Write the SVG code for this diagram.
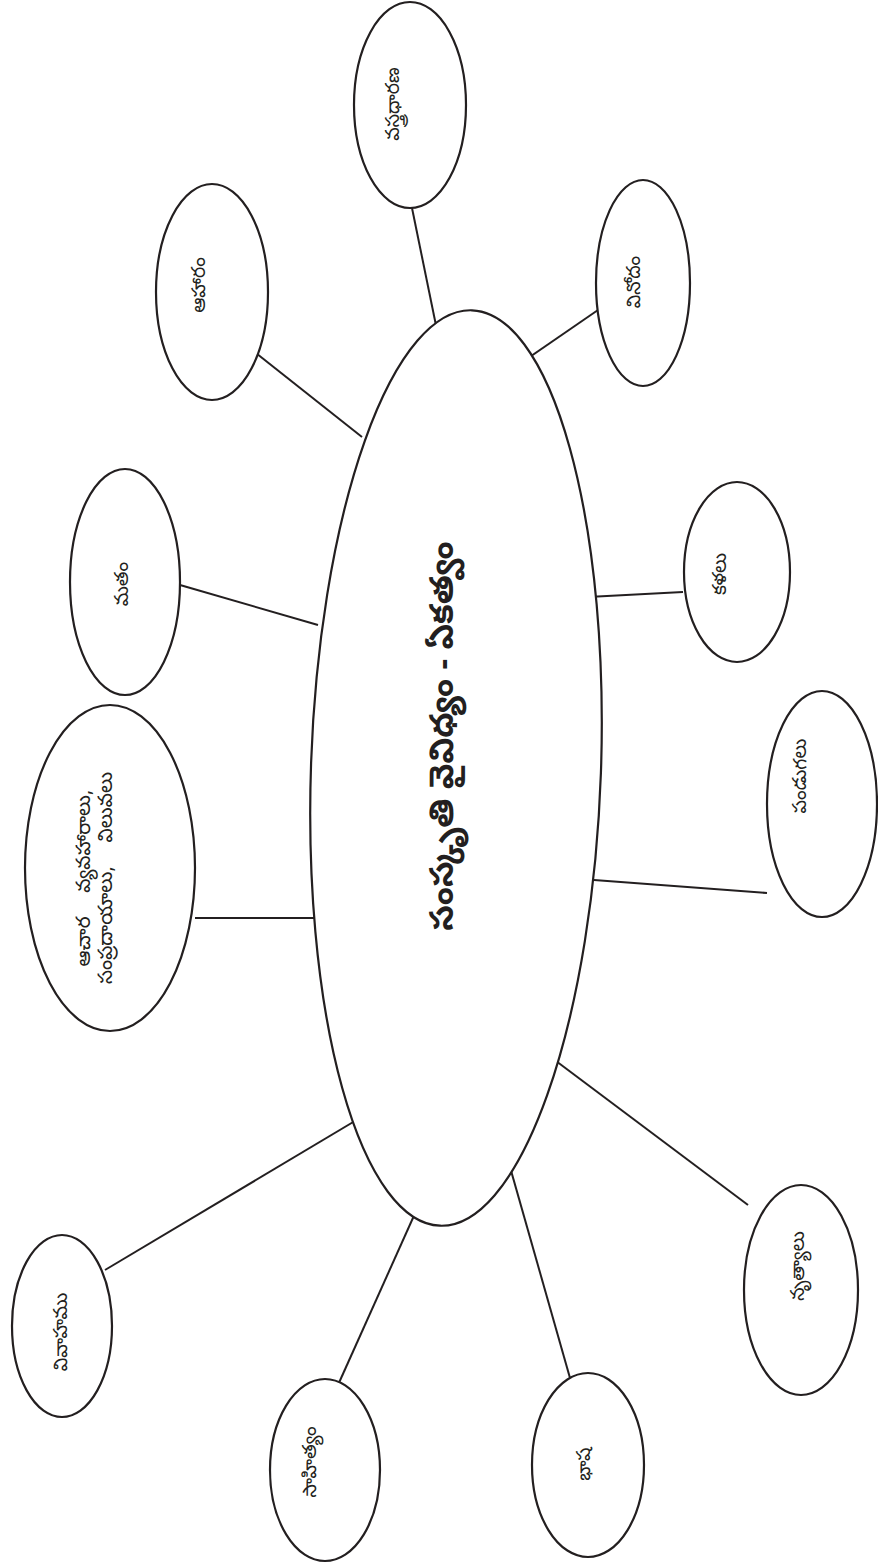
<svg xmlns="http://www.w3.org/2000/svg" width="878" height="1565" viewBox="0 0 878 1565">
<style>
.e{fill:#fff;stroke:#231f20;stroke-width:2.2}
.c line{stroke:#231f20;stroke-width:2}
.t{font-family:"Noto Sans Telugu","Noto Sans","DejaVu Sans",sans-serif;font-size:19px;fill:#231f20;text-anchor:middle;dominant-baseline:central}
.big{font-size:33px;font-weight:bold}
.wide{font-size:20px;word-spacing:18px}
</style>
<rect width="878" height="1565" fill="#fff"/>
<g class="c" id="connectors">
<line x1="412" y1="208" x2="440" y2="345"/>
<line x1="252" y1="350" x2="362" y2="437"/>
<line x1="180" y1="585" x2="318" y2="625"/>
<line x1="195" y1="918" x2="318" y2="918"/>
<line x1="105" y1="1270" x2="370" y2="1112"/>
<line x1="338" y1="1385" x2="430" y2="1180"/>
<line x1="570" y1="1378" x2="508" y2="1160"/>
<line x1="748" y1="1205" x2="548" y2="1055"/>
<line x1="767" y1="893" x2="594" y2="880"/>
<line x1="683" y1="592" x2="588" y2="597"/>
<line x1="598" y1="310" x2="508" y2="372"/>
</g>
<g id="center">
<ellipse class="e" cx="456" cy="768" rx="145" ry="458" transform="rotate(2 456 768)"/>
<text class="t big" transform="translate(446 736) rotate(-90)">సంస్కృతి వైవిధ్యం - ఏకత్వం</text>
</g>
<g id="n-vastradharana">
<ellipse class="e" cx="410" cy="105" rx="56" ry="103"/>
<text class="t" transform="translate(395 104) rotate(-90)">వస్త్రధారణ</text>
</g>
<g id="n-aaharam">
<ellipse class="e" cx="212" cy="292" rx="56" ry="108"/>
<text class="t" transform="translate(201 285) rotate(-90)">ఆహారం</text>
</g>
<g id="n-matam">
<ellipse class="e" cx="125" cy="582" rx="55" ry="113"/>
<text class="t" transform="translate(124 584) rotate(-90)">మతం</text>
</g>
<g id="n-achara">
<ellipse class="e" cx="110" cy="868" rx="85" ry="163"/>
<text class="t wide" transform="translate(86 878) rotate(-90)">ఆచార వ్యవహారాలు,</text>
<text class="t wide" transform="translate(108 878) rotate(-90)">సంప్రదాయాలు, విలువలు</text>
</g>
<g id="n-vivahamu">
<ellipse class="e" cx="62" cy="1326" rx="50" ry="91"/>
<text class="t" transform="translate(63 1332) rotate(-90)">వివాహము</text>
</g>
<g id="n-sahityam">
<ellipse class="e" cx="325" cy="1470" rx="55" ry="91"/>
<text class="t" transform="translate(312 1462) rotate(-90)">సాహిత్యం</text>
</g>
<g id="n-bhasha">
<ellipse class="e" cx="588" cy="1465" rx="56" ry="92"/>
<text class="t" transform="translate(586 1464) rotate(-90)">భాష</text>
</g>
<g id="n-nrityalu">
<ellipse class="e" cx="801" cy="1290" rx="57" ry="105"/>
<text class="t" transform="translate(800 1266) rotate(-90)">నృత్యాలు</text>
</g>
<g id="n-pandugalu">
<ellipse class="e" cx="822" cy="804" rx="55" ry="113"/>
<text class="t" transform="translate(802 776) rotate(-90)">పండుగలు</text>
</g>
<g id="n-kalalu">
<ellipse class="e" cx="737" cy="572" rx="53" ry="90"/>
<text class="t" transform="translate(722 574) rotate(-90)">కళలు</text>
</g>
<g id="n-vinodam">
<ellipse class="e" cx="643" cy="283" rx="47" ry="103"/>
<text class="t" transform="translate(636 282) rotate(-90)">వినోదం</text>
</g>
</svg>
